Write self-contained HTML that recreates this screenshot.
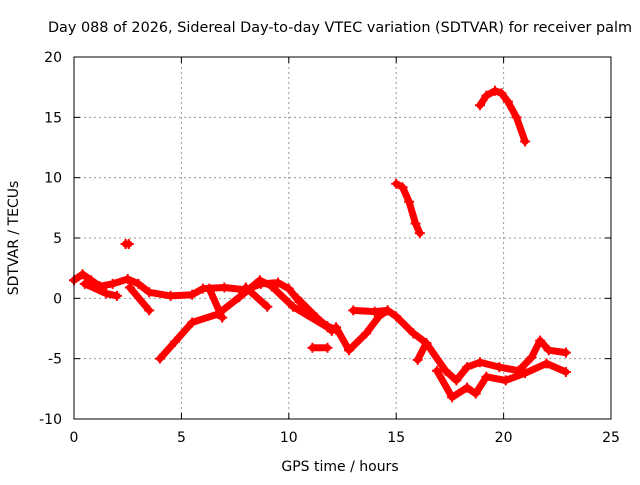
<!DOCTYPE html>
<html><head><meta charset="utf-8"><style>
body{margin:0;background:#fff;}
svg text{font-family:"DejaVu Sans","Liberation Sans",sans-serif;font-size:14px;fill:#000;}
</style></head><body>
<svg id="chart" width="640" height="480">
<text x="340" y="32" text-anchor="middle" style="font-size:14.4px">Day 088 of 2026, Sidereal Day-to-day VTEC variation (SDTVAR) for receiver palm</text>
<text x="340" y="471" text-anchor="middle">GPS time / hours</text>
<text transform="translate(18,238) rotate(-90)" text-anchor="middle">SDTVAR / TECUs</text>
<g id="grid"></g><g id="ticks"></g><g id="marks"></g>
<rect x="74" y="57" width="537" height="362" fill="none" stroke="#000"/>
</svg>
<script>
const xTicks=[0,5,10,15,20,25];
const yTicks=[-10,-5,0,5,10,15,20];
const trackMain=[[0,1.5],[0.4,2],[0.8,1.5],[1.2,1],[1.8,1.2],[2.5,1.6],[3,1.2],[3.5,0.5],[4.5,0.2],[5.5,0.3],[6,0.8],[7,0.9],[8,0.7],[8.7,1.2],[9.5,1.3],[10,0.8],[10.5,-0.3],[11,-1.3],[11.8,-2.3],[12.2,-2.6]];
const trackRise=[[4,-5],[4.7,-3.6],[5.5,-2],[6.7,-1.3],[7.7,0.1],[8.65,1.5],[9.2,1.0],[10.2,-0.7],[11.8,-2.4]];
const trackBranch1=[[6.3,0.8],[6.9,-1.6]];
const trackBranch2=[[8,0.9],[9,-0.7]];
const trackBranch3=[[2.6,0.9],[3.5,-1]];
const trackBranch4=[[0.5,1.2],[1.5,0.4],[2,0.2]];
const trackShort=[[11.1,-4.1],[11.8,-4.1]];
const trackIsolated=[[2.4,4.5],[2.55,4.5]];
const trackMid=[[10.4,0],[11.3,-1.6],[12,-2.7],[12.2,-2.4],[12.8,-4.3],[13.6,-2.9],[14.2,-1.5],[14.6,-1],[15,-1.5],[15.8,-2.9],[16.4,-3.7],[17.3,-6],[17.8,-6.8],[18.3,-5.7],[18.9,-5.3],[19.8,-5.7],[20.7,-6],[21.3,-4.9],[21.7,-3.5],[22.1,-4.3],[22.9,-4.5]];
const trackMid2=[[13,-1],[14,-1.1],[14.6,-1]];
const trackLow=[[16,-5.1],[16.4,-3.7]];
const trackLoop=[[16.9,-6],[17.6,-8.2],[18.3,-7.4],[18.7,-7.9],[19.2,-6.5],[20.1,-6.8],[21,-6.2],[22,-5.4],[22.9,-6.1]];
const trackArc1=[[15,9.5],[15.3,9.2],[15.6,8],[15.9,6.2],[16.1,5.4]];
const trackArc2=[[18.9,16],[19.2,16.8],[19.6,17.2],[19.9,17],[20.2,16.3],[20.6,15],[21,13]];
const tracks=[trackMain,trackRise,trackBranch1,trackBranch2,trackBranch3,trackBranch4,trackShort,trackIsolated,trackMid,trackMid2,trackLow,trackLoop,trackArc1,trackArc2];
const X=h=>74+h*537/25, Y=v=>419-(v+10)*362/30;
const NS='http://www.w3.org/2000/svg';
const grid=document.getElementById('grid'),ticks=document.getElementById('ticks'),marks=document.getElementById('marks');
function mk(tag,attrs,parent){const e=document.createElementNS(NS,tag);for(const k in attrs)e.setAttribute(k,attrs[k]);parent.appendChild(e);return e;}
xTicks.forEach(t=>{const x=X(t);
 if(t>0&&t<25){const g=mk('line',{x1:x,x2:x,y1:57,y2:419,stroke:'#999','stroke-dasharray':'2,3'},grid);}
 const l=mk('line',{x1:x,x2:x,y1:419,y2:413,stroke:'#000'},ticks);
 const l2=mk('line',{x1:x,x2:x,y1:57,y2:63,stroke:'#000'},ticks);
 const tx=mk('text',{x:x,y:442,'text-anchor':'middle'},ticks);tx.textContent=t;});
yTicks.forEach(t=>{const y=Y(t);
 if(t>-10&&t<20){const g=mk('line',{x1:74,x2:611,y1:y,y2:y,stroke:'#999','stroke-dasharray':'2,3'},grid);}
 const l=mk('line',{x1:74,x2:80,y1:y,y2:y,stroke:'#000'},ticks);
 const l2=mk('line',{x1:605,x2:611,y1:y,y2:y,stroke:'#000'},ticks);
 const tx=mk('text',{x:62,y:y+5,'text-anchor':'end'},ticks);tx.textContent=t;});
tracks.forEach(tr=>{
 const p=mk('polyline',{points:tr.map(d=>X(d[0])+','+Y(d[1])).join(' '),fill:'none',stroke:'#f00','stroke-width':7,'stroke-linejoin':'round','stroke-linecap':'round'},marks);
 
 
 tr.forEach(d=>{const x=X(d[0]),y=Y(d[1]);
  const m=mk('path',{d:`M${x-5},${y}H${x+5}M${x},${y-5}V${y+5}`,stroke:'#f00','stroke-width':2},marks);
  
  });
});
</script>
</body></html>
